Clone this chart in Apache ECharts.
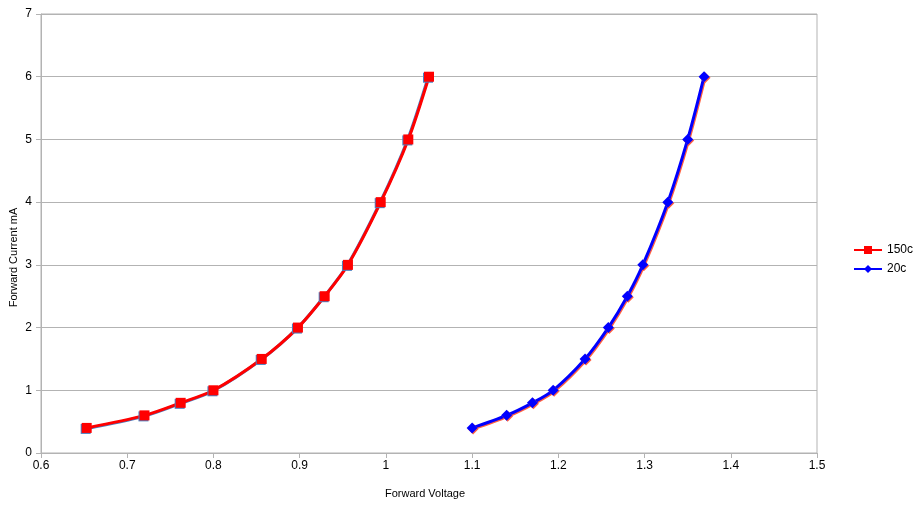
<!DOCTYPE html>
<html>
<head>
<meta charset="utf-8">
<script src="https://cdn.jsdelivr.net/npm/echarts@6/dist/echarts.min.js"></script>
<style>
  html, body { margin: 0; padding: 0; background: #fff; }
  #chart { width: 922px; height: 513px; }
</style>
</head>
<body>
<div id="chart"></div>
<script>
// forward current (mA), shared by both curves
const current = [0.4, 0.6, 0.8, 1, 1.5, 2, 2.5, 3, 4, 5, 6]
// forward voltage at 150c
const volt150 = [0.653, 0.72, 0.762, 0.80, 0.856, 0.898, 0.929, 0.956, 0.994, 1.026, 1.05]
// forward voltage at 20c
const volt20 = [1.10, 1.14, 1.17, 1.194, 1.231, 1.258, 1.28, 1.298, 1.327, 1.35, 1.369]

const pairs = (xs, ys) => xs.map((x, i) => [x, ys[i]])

const chart = echarts.init(document.getElementById('chart'))
const axisGray = '#b3b3b3'
const font = 'Liberation Sans, Arial, sans-serif'

chart.setOption({
  animation: false,
  grid: {
    left: 41, right: 105, top: 14, bottom: 60,
    outerBoundsMode: 'none',
    containLabel: false,
    show: true, borderColor: axisGray, borderWidth: 1
  },
  legend: {
    orient: 'vertical',
    left: 848,
    top: 239,
    itemWidth: 28,
    itemHeight: 10,
    itemGap: 7,
    itemTextGap: 4,
    textStyle: { fontFamily: font, fontSize: 12, color: '#000' },
    data: ['150c', '20c']
  },
  xAxis: {
    type: 'value',
    min: 0.6, max: 1.5, interval: 0.1,
    name: 'Forward Voltage',
    nameLocation: 'middle',
    nameGap: 35,
    nameTextStyle: { fontFamily: font, fontSize: 11, color: '#000', padding: [0, 8, 0, 0] },
    axisLine: { lineStyle: { color: axisGray } },
    axisTick: { show: true, length: 5, lineStyle: { color: axisGray } },
    axisLabel: {
      fontFamily: font, fontSize: 12, color: '#000', margin: 7,
      formatter: v => String(Math.round(v * 10) / 10)
    },
    splitLine: { show: false }
  },
  yAxis: {
    type: 'value',
    min: 0, max: 7, interval: 1,
    name: 'Forward Current mA',
    nameLocation: 'middle',
    nameGap: 22,
    nameMoveOverlap: false,
    nameTextStyle: { fontFamily: font, fontSize: 11, color: '#000', padding: [0, 48, 0, 0] },
    axisLine: { show: true, lineStyle: { color: axisGray } },
    axisTick: { show: true, length: 5, lineStyle: { color: axisGray } },
    axisLabel: { fontFamily: font, fontSize: 12, color: '#000', margin: 9 },
    splitLine: { lineStyle: { color: axisGray, width: 1 } }
  },
  series: [
    {
      name: '150c',
      type: 'line',
      smooth: 0.3,
      data: pairs(volt150, current),
      symbol: 'rect',
      symbolSize: 10,
      itemStyle: { color: '#ff0000', shadowColor: '#4a7fc0', shadowOffsetX: -1, shadowOffsetY: 1 },
      lineStyle: { color: '#ff0000', width: 3, shadowColor: '#4a7fc0', shadowOffsetX: -1, shadowOffsetY: 1 }
    },
    {
      name: '20c',
      type: 'line',
      smooth: 0.3,
      data: pairs(volt20, current),
      symbol: 'diamond',
      symbolSize: 11,
      itemStyle: { color: '#0000ff', shadowColor: '#ff6040', shadowOffsetX: 1, shadowOffsetY: 1 },
      lineStyle: { color: '#0000ff', width: 3, shadowColor: '#ff6040', shadowOffsetX: 1, shadowOffsetY: 1 }
    }
  ]
})
</script>
</body>
</html>
